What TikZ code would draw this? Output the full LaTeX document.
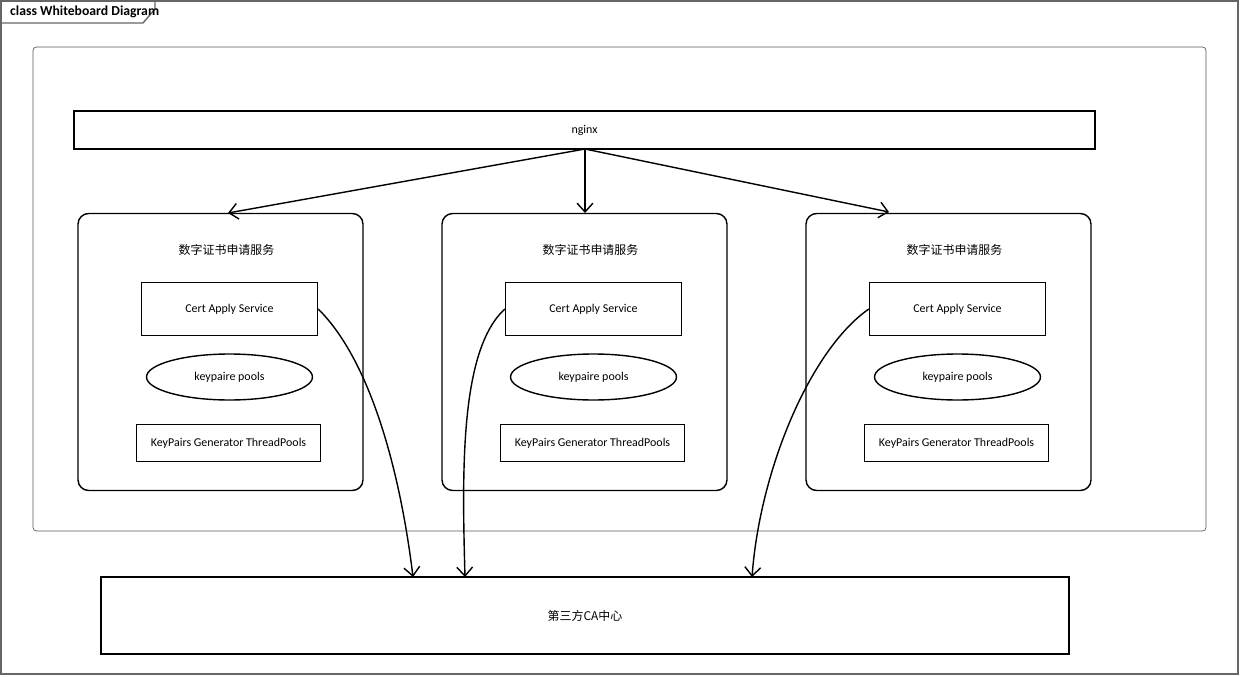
\documentclass[tikz,border=0pt]{standalone}
\usepackage{fontspec}
\setmainfont{Carlito}
\newfontfamily\cjk{Noto Sans CJK SC}
\usetikzlibrary{shapes.geometric, arrows.meta, positioning}

\begin{document}
\begin{tikzpicture}[x=0.02cm, y=-0.02cm,
        every node/.style={font=\fontsize{6.8}{8}\selectfont},
        box/.style={draw, thick, rectangle, inner sep=0pt},
        service/.style={draw, thick, rounded corners=6pt, inner sep=0pt, minimum width=5.7cm, minimum height=5.54cm},
        pool/.style={draw, thick, ellipse, minimum width=3.32cm, minimum height=0.92cm, inner sep=0pt},
        link/.style={thick, -{Straight Barb[length=5pt, width=9pt]}}
    ]
        \useasboundingbox (0,0) rectangle (1240,676);

        % Frame
        \draw[gray!80!black, thick] (1,1) rectangle (1238,674);
        \draw[gray!80!black, thick] (1,23) -- (143,23) -- (155,9) -- (155,1);
        \node[anchor=west, font=\fontsize{7.8}{9}\selectfont\bfseries] (title) at (4,12) {class Whiteboard Diagram};
        \draw[gray!70!black, rounded corners=2pt] (33,47) rectangle (1206,531);

        % nginx
        \node[box, minimum width=20.42cm, minimum height=0.76cm] (nginx) at (584.5,130) {nginx};

        % Services
        \foreach \i/\x in {1/220.5, 2/584.5, 3/948.5} {
            \node[service] (svc\i) at (\x,352) {};
            \node (name\i) at (\x+6,250) {\cjk 数字证书申请服务};
            \node[box, minimum width=3.52cm, minimum height=1.06cm] (cert\i) at (\x+9,309) {Cert Apply Service};
            \node[pool] (pool\i) at (\x+9,377) {keypaire pools};
            \node[box, minimum width=3.68cm, minimum height=0.74cm] (gen\i) at (\x+8,443) {KeyPairs Generator ThreadPools};
        }

        % CA
        \node[box, minimum width=19.36cm, minimum height=1.54cm] (ca) at (585,615.5) {\cjk 第三方CA中心};

        % Connectors
        \coordinate (top) at (585,149);
        \draw[link] (top) -- (228,213);
        \draw[link] (top) -- (585,213);
        \draw[link] (top) -- (889,212);
        \draw[link] (cert1.east) .. controls (370,360) and (400,470) .. (413,577);
        \draw[link] (cert2.west) .. controls (460,350) and (462,470) .. (465,577);
        \draw[link] (cert3.west) .. controls (810,350) and (760,470) .. (752,577);
    \end{tikzpicture}
\end{document}
